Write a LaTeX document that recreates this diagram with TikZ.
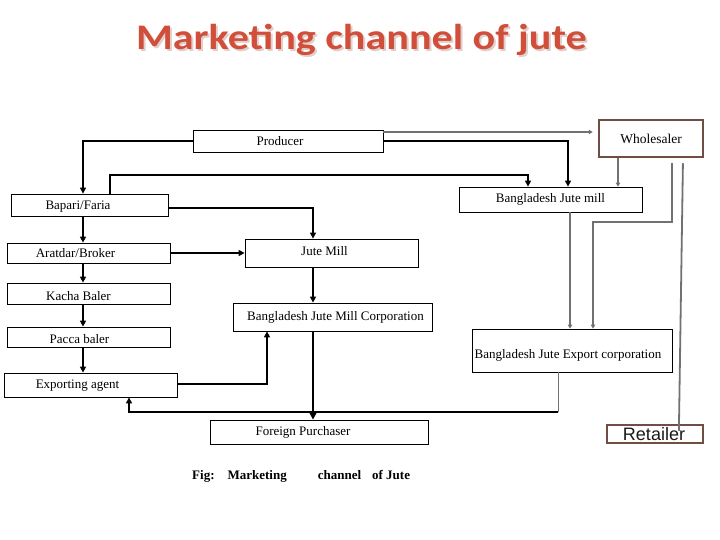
\documentclass[tikz,border=0pt]{standalone}
\usepackage{fontspec}
\setmainfont{Liberation Serif}
\newfontfamily\titlefont{Carlito}
\newfontfamily\arialfont{Liberation Sans}
\usetikzlibrary{arrows.meta}
\definecolor{titlered}{RGB}{208,78,58}
\definecolor{shadowc}{RGB}{224,208,204}
\definecolor{brownb}{RGB}{112,78,68}
\definecolor{grayl}{RGB}{112,114,114}
\definecolor{rettext}{RGB}{25,25,25}
\begin{document}
\begin{tikzpicture}[x=1pt,y=-1pt,
  box/.style={draw, line width=0.8pt, inner sep=0pt},
  brownbox/.style={draw=brownb, line width=2.5pt, inner sep=0pt},
  txt/.style={font=\fontsize{13}{15}\selectfont, inner sep=0pt},
  titletxt/.style={font=\titlefont\bfseries\fontsize{36}{40}\selectfont, anchor=base, xscale=1.17, inner sep=0pt},
  blk/.style={line width=1.7pt, -{Triangle[length=6pt,width=6pt]}},
  gry/.style={draw=grayl, line width=1.8pt, -{Triangle[length=4pt,width=4.5pt]}}]
\useasboundingbox (0,0) rectangle (720,540);

% title
\node[titletxt, text=shadowc] (titleshadow) at (363.5,51.5) {Marketing channel of jute};
\node[titletxt, text=titlered] (title) at (361.5,50) {Marketing channel of jute};

% boxes
\node[box, minimum width=190pt, minimum height=22pt, label={[txt,xshift=-8pt]center:Producer}] (prod) at (288,141) {};
\node[brownbox, minimum width=104pt, minimum height=37pt, label={[txt,font=\fontsize{13.5}{15}\selectfont]center:Wholesaler}] (whole) at (651,138.5) {};
\node[box, minimum width=157pt, minimum height=22pt, label={[txt,xshift=-11.5pt,yshift=-2pt]center:Bapari/Faria}] (bapari) at (89.5,205) {};
\node[box, minimum width=183pt, minimum height=25pt, label={[txt]center:Bangladesh Jute mill}] (bjmill) at (550.5,199.5) {};
\node[box, minimum width=163pt, minimum height=20pt, label={[txt,xshift=-13pt]center:Aratdar/Broker}] (aratdar) at (88.5,253) {};
\node[box, minimum width=173pt, minimum height=28pt, label={[txt,xshift=-7pt,yshift=2pt]center:Jute Mill}] (jutemill) at (331.5,253) {};
\node[box, minimum width=163pt, minimum height=21pt, label={[txt,xshift=-10pt,yshift=-2.5pt]center:Kacha Baler}] (kacha) at (88.5,293.5) {};
\node[box, minimum width=199pt, minimum height=28pt, label={[txt,xshift=3pt]center:Bangladesh Jute Mill Corporation}] (bjmc) at (332.5,317) {};
\node[box, minimum width=163pt, minimum height=20pt, label={[txt,xshift=-9pt,yshift=-2pt]center:Pacca baler}] (pacca) at (88.5,337) {};
\node[box, minimum width=200pt, minimum height=43pt, label={[txt,xshift=-4pt,yshift=-4.5pt]center:Bangladesh Jute Export corporation}] (bjec) at (572,350.5) {};
\node[box, minimum width=173pt, minimum height=24pt, label={[txt,xshift=-13pt,yshift=-1pt]center:Exporting agent}] (export) at (90.5,385) {};
\node[box, minimum width=218pt, minimum height=24pt, label={[txt,xshift=-16pt]center:Foreign Purchaser}] (foreign) at (319,432) {};
\node[brownbox, minimum width=96pt, minimum height=18pt, label={[inner sep=0pt,text=rettext,font=\arialfont\fontsize{18}{20}\selectfont,xshift=-1pt]center:Retailer}] (retailer) at (655,434) {};

% black connectors
\draw[blk,line width=1.2pt] (prod.west) -| (bapari.north -| 83,0);
\draw[blk,line width=1.2pt] (prod.east) -| (bjmill.north -| 568,0);
\draw[blk,line width=1.1pt] (bapari.north -| 110,0) |- (528,175) -- (bjmill.north -| 528,0);
\draw[blk,line width=1.2pt] ([yshift=-3pt]bapari.east) -| (jutemill.north -| 313,0);
\draw[blk] (bapari.south -| 83,0) -- (aratdar.north -| 83,0);
\draw[blk] (aratdar.east) -- (jutemill.west);
\draw[blk] (aratdar.south -| 83,0) -- (kacha.north -| 83,0);
\draw[blk] (kacha.south -| 83,0) -- (pacca.north -| 83,0);
\draw[blk] (pacca.south -| 83,0) -- (export.north -| 83,0);
\draw[blk] (jutemill.south -| 313,0) -- (bjmc.north -| 313,0);
\draw[blk,line width=1.4pt] ([yshift=1pt]export.east) -| (bjmc.south -| 267,0);
\draw[line width=2.8pt, -{Triangle[length=7pt,width=7pt]}] (bjmc.south -| 313,0) -- (foreign.north -| 313,0);
\coordinate (c1) at (558,412);
\draw[grayl, line width=1pt] (bjec.south -| 558,0) -- (c1);
\draw[blk,line width=1.1pt] (c1) -| (export.south -| 129,0);

% gray connectors
\draw[gry, shorten >=5pt] ([yshift=9pt]prod.east) -- (whole.west |- 0,132);
\draw[gry] (whole.south -| 618,0) -- (bjmill.north -| 618,0);
\draw[gry] (bjmill.south -| 570,0) -- (bjec.north -| 570,0);
\draw[gry, shorten <=5pt] (whole.south -| 672,0) |- (593,222) -- (bjec.north -| 593,0);
\draw[grayl, line width=1.8pt, shorten <=5pt, shorten >=-7pt] (whole.south -| 683,0) -- (retailer.north -| 679,0);

% caption
\node[font=\bfseries\fontsize{13}{15}\selectfont, anchor=base west, inner sep=0pt] (caption) at (192,479) {Fig:\hspace{13pt}Marketing\hspace{31pt}channel\hspace{11pt}of Jute};
\end{tikzpicture}
\end{document}
